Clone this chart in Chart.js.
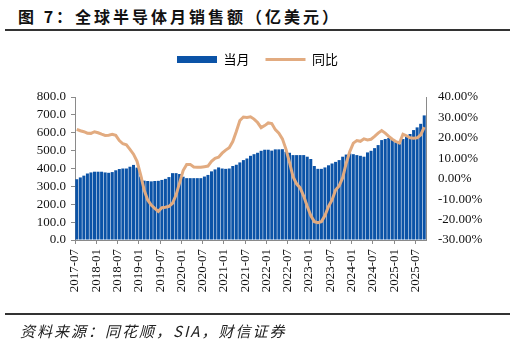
<!DOCTYPE html>
<html>
<head>
<meta charset="utf-8">
<script src="https://cdn.jsdelivr.net/npm/chart.js@4"></script>
<style>
  body { margin: 0; width: 515px; height: 346px; position: relative; background: #fff; overflow: hidden; }
  #title { position: absolute; left: 18px; top: 4px; font: bold 16px "Noto Sans CJK SC", sans-serif; letter-spacing: 3px; color: #111; white-space: nowrap; }
  .rule { position: absolute; left: 5px; width: 505px; height: 2px; background: #333; }
  #source { position: absolute; left: 20px; top: 320px; font: italic 15px "Noto Sans CJK SC", serif; letter-spacing: 2px; color: #222; white-space: nowrap; }
  #wrap { position: absolute; left: 0; top: 0; width: 515px; height: 346px; }
</style>
</head>
<body>
<div id="title">图 7：全球半导体月销售额（亿美元）</div>
<div class="rule" style="top:29px"></div>
<div id="wrap"><canvas id="chartdiv"></canvas></div>
<div class="rule" style="top:313px"></div>
<div id="source">资料来源：同花顺，SIA，财信证券</div>
<script>
// months 2017-07 .. 2025-09
const months = [
  '2017-07','2017-08','2017-09','2017-10','2017-11','2017-12',
  '2018-01','2018-02','2018-03','2018-04','2018-05','2018-06','2018-07','2018-08','2018-09','2018-10','2018-11','2018-12',
  '2019-01','2019-02','2019-03','2019-04','2019-05','2019-06','2019-07','2019-08','2019-09','2019-10','2019-11','2019-12',
  '2020-01','2020-02','2020-03','2020-04','2020-05','2020-06','2020-07','2020-08','2020-09','2020-10','2020-11','2020-12',
  '2021-01','2021-02','2021-03','2021-04','2021-05','2021-06','2021-07','2021-08','2021-09','2021-10','2021-11','2021-12',
  '2022-01','2022-02','2022-03','2022-04','2022-05','2022-06','2022-07','2022-08','2022-09','2022-10','2022-11','2022-12',
  '2023-01','2023-02','2023-03','2023-04','2023-05','2023-06','2023-07','2023-08','2023-09','2023-10','2023-11','2023-12',
  '2024-01','2024-02','2024-03','2024-04','2024-05','2024-06','2024-07','2024-08','2024-09','2024-10','2024-11','2024-12',
  '2025-01','2025-02','2025-03','2025-04','2025-05','2025-06','2025-07','2025-08','2025-09'
]

// 当月 (亿美元)
const sales = [
  340,350,360,372,378,382,
  382,382,378,376,380,390,397,400,400,410,420,405,
  355,332,330,328,330,331,336,342,352,374,374,369,
  354,346,346,346,346,346,355,364,384,395,406,400,
  398,400,414,421,434,447,456,471,480,488,499,505,
  505,500,507,507,508,494,488,475,475,475,475,466,
  453,414,398,398,406,418,428,437,447,466,478,484,
  480,475,471,466,490,499,514,531,559,565,571,565,
  547,537,565,580,593,615,630,650,697
]

// 同比 (%)
const yoy = [
  24.2,23.5,23.0,22.3,22.2,23.0,
  22.5,21.8,21.2,21.3,21.7,21.2,18.7,17.1,16.6,14.4,12.0,8.5,
  2.0,-5.5,-10.4,-12.9,-14.5,-16.0,-14.2,-14.0,-13.5,-12.0,-8.0,-2.0,
  4.0,7.0,7.0,5.7,5.6,5.6,5.9,6.2,8.5,10.0,10.5,12.5,
  14.0,15.2,18.2,23.1,28.5,30.2,30.0,30.3,29.2,27.5,25.0,26.0,
  27.3,27.0,24.0,22.3,19.5,14.5,8.0,1.0,-2.5,-4.5,-8.5,-13.5,
  -18.0,-21.0,-21.5,-21.0,-18.0,-13.6,-10.4,-5.5,-3.5,0.5,7.6,13.3,
  17.4,18.7,18.3,19.5,19.0,19.3,20.7,22.3,23.6,22.3,20.7,19.3,
  18.2,17.5,21.8,21.0,20.0,19.8,20.0,21.4,25.2
]

const BLUE = '#0B53A7'
const TAN = '#E2AB80'
const AXIS = '#8a8a8a'
const tickFont = {family: '"Liberation Serif", "Times New Roman", serif', size: 13}

// push the plot down a bit below the legend
const legendGap = {
    id: 'legendGap',
    beforeInit(chart){
        const fit = chart.legend.fit
        chart.legend.fit = function(){ fit.call(this); this.height += 21 }
    }
}

const myChart = new Chart(document.getElementById('chartdiv').getContext('2d'), {
    data: {
        labels: months,
        datasets: [
            {type: 'line', label: '同比', data: yoy, yAxisID: 'y1', order: 0,
             borderColor: TAN, backgroundColor: TAN, borderWidth: 3, pointRadius: 0, tension: 0},
            {type: 'bar', label: '当月', data: sales, yAxisID: 'y', order: 1,
             backgroundColor: BLUE, borderWidth: 0, barPercentage: 0.85, categoryPercentage: 1.0}
        ]
    },
    options: {
        responsive: true,
        maintainAspectRatio: false,
        animation: {duration: 0},
        layout: {padding: {top: 37, bottom: 46, left: 0, right: 0}},
        plugins: {
            tooltip: {enabled: false},
            legend: {
                position: 'top',
                labels: {
                    usePointStyle: true, pointStyleWidth: 40, boxHeight: 7, padding: 16,
                    color: '#222', font: {family: '"Noto Sans CJK SC", sans-serif', size: 13},
                    generateLabels: function(chart){
                        return [
                            {text: '当月', fillStyle: BLUE, strokeStyle: BLUE, lineWidth: 0, pointStyle: 'rect', datasetIndex: 1, hidden: false},
                            {text: '同比', fillStyle: TAN, strokeStyle: TAN, lineWidth: 3, pointStyle: 'line', datasetIndex: 0, hidden: false}
                        ]
                    }
                }
            }
        },
        scales: {
            x: {
                offset: true,
                grid: {offset: true, drawOnChartArea: false, tickLength: 4,
                       tickColor: c => (c.index % 6 === 0 ? AXIS : 'rgba(0,0,0,0)')},
                border: {color: AXIS},
                ticks: {autoSkip: false, minRotation: 90, maxRotation: 90, padding: 5,
                        labelOffset: -1.77, color: '#111', font: tickFont,
                        callback: (v, i) => (i % 6 === 0 ? months[i] : '')},
                afterFit: s => { s.height = 60 }
            },
            y: {
                position: 'left', min: 0, max: 800,
                grid: {drawOnChartArea: false, tickLength: 4, tickColor: AXIS},
                border: {color: AXIS},
                ticks: {stepSize: 100, autoSkip: false, padding: 5, color: '#111', font: tickFont,
                        callback: v => v.toFixed(1)},
                afterFit: s => { s.width = 75 }
            },
            y1: {
                position: 'right', min: -30, max: 40,
                grid: {display: false, drawTicks: false},
                border: {color: AXIS},
                ticks: {stepSize: 10, autoSkip: false, padding: 12, color: '#111', font: tickFont,
                        callback: v => v.toFixed(2) + '%'},
                afterFit: s => { s.width = 89 }
            }
        }
    },
    plugins: [legendGap]
})
</script>
</body>
</html>
